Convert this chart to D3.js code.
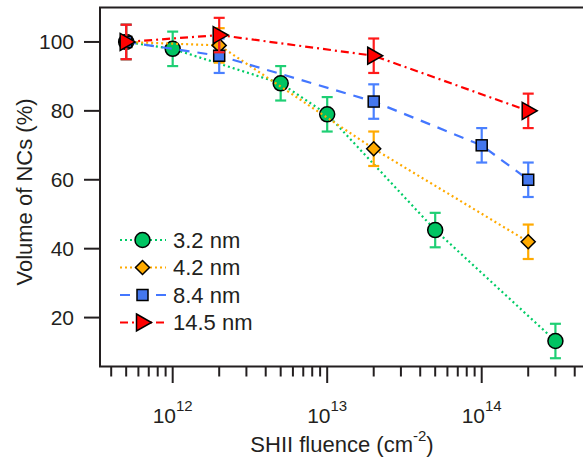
<!DOCTYPE html>
<html><head><meta charset="utf-8">
<script src="https://cdn.jsdelivr.net/npm/d3@7"></script>
<style>html,body{margin:0;padding:0;background:#fff;}svg{display:block;font-family:"Liberation Sans",Arial,Helvetica,sans-serif;}</style>
</head><body>
<svg id="chart" width="583" height="460"></svg>
<script>
// ---- data ----
const seriesNames = ["3.2 nm", "4.2 nm", "8.4 nm", "14.5 nm"];
const fluence32 = [5e11, 1e12, 5e12, 1e13, 5e13, 3e14];
const volume32  = [100, 98, 88, 79, 45.4, 13.2];
const error32   = [5, 5, 5, 5, 5, 5];
const fluence42 = [5e11, 2e12, 2e13, 2e14];
const volume42  = [100, 99, 69, 42];
const error42   = [5, 5, 5, 5];
const fluence84 = [5e11, 2e12, 2e13, 1e14, 2e14];
const volume84  = [100, 96, 82.7, 70, 60];
const error84   = [5, 5, 5, 5, 5];
const fluence145 = [5e11, 2e12, 2e13, 2e14];
const volume145  = [100, 102, 96, 80];
const error145   = [5, 5, 5, 5];
const yTicks = [20, 40, 60, 80, 100];
const xMajorTicks = [1e12, 1e13, 1e14];
const xTickExponents = ["12", "13", "14"];

const styles = [
  {line:"#00cc66", fill:"#00c462", err:"#1fcf74", dash:"2,3", shape:"circle"},
  {line:"#ffaa00", fill:"#ffaa00", err:"#ffaa00", dash:"2,3", shape:"diamond"},
  {line:"#4477ff", fill:"#4477ee", err:"#4a80ff", dash:"10,8", shape:"square"},
  {line:"#ff0000", fill:"#ff0000", err:"#ff1a1a", dash:"8,4,2,4", shape:"triangle"}
];
const series = [
  {x:fluence32, y:volume32, e:error32},
  {x:fluence42, y:volume42, e:error42},
  {x:fluence84, y:volume84, e:error84},
  {x:fluence145, y:volume145, e:error145}
].map((s,i)=>({name:seriesNames[i], pts:s.x.map((xv,j)=>({x:xv,y:s.y[j],e:s.e[j]})), st:styles[i]}));

// ---- scales ----
const L = 100, R = 589.7, T = 7.5, B = 366.5;
const x = d3.scaleLog().domain([3.385e11, 5e14]).range([L, R]);
const y = d3.scaleLinear().domain([5.8, 110]).range([B, T]);

const svg = d3.select("#chart");
const ink = "#231f20";

// frame
svg.append("path").attr("d", `M${R},${T}H${L}V${B}H${R}`)
  .attr("fill","none").attr("stroke",ink).attr("stroke-width",2);

// x ticks
const minor = [];
for (let d = 11; d <= 14; d++) for (let m = 2; m <= 9; m++) {
  const v = m * Math.pow(10, d);
  if (v > x.domain()[0] && v < x.domain()[1]) minor.push(v);
}
svg.append("g").selectAll("line").data(minor).join("line")
  .attr("x1", d=>x(d)).attr("x2", d=>x(d)).attr("y1", B).attr("y2", B+10)
  .attr("stroke", ink).attr("stroke-width", 2);
svg.append("g").selectAll("line").data(xMajorTicks).join("line")
  .attr("x1", d=>x(d)).attr("x2", d=>x(d)).attr("y1", B).attr("y2", B+16.5)
  .attr("stroke", ink).attr("stroke-width", 2);
const xl = svg.append("g").selectAll("text").data(xMajorTicks).join("text")
  .attr("x", d=>x(d)).attr("y", 423.3).attr("text-anchor","middle")
  .attr("fill", ink).attr("font-size", 21);
xl.append("tspan").text("10");
xl.append("tspan").attr("font-size", 15).attr("dy", -12.6).text((d,i)=>xTickExponents[i]);

// y ticks
svg.append("g").selectAll("line").data(yTicks).join("line")
  .attr("x1", L-16).attr("x2", L).attr("y1", d=>y(d)).attr("y2", d=>y(d))
  .attr("stroke", ink).attr("stroke-width", 2);
svg.append("g").selectAll("text").data(yTicks).join("text")
  .attr("x", 74).attr("y", d=>y(d)).attr("dy", "0.35em").attr("text-anchor","end")
  .attr("fill", ink).attr("font-size", 21).text(d=>d);

// axis titles
const xt = svg.append("text").attr("x", 342).attr("y", 452).attr("text-anchor","middle")
  .attr("fill", ink).attr("font-size", 22);
xt.append("tspan").text("SHII fluence (cm");
xt.append("tspan").attr("font-size", 15).attr("dy", -11).text("-2");
xt.append("tspan").attr("dy", 11).text(")");
svg.append("text").attr("transform", "translate(32,192) rotate(-90)")
  .attr("text-anchor","middle").attr("fill", ink).attr("font-size", 22)
  .text("Volume of NCs (%)");

// markers
function marker(g, shape, st) {
  if (shape === "circle") g.append("circle").attr("r", 7.5);
  else if (shape === "square") g.append("rect").attr("x",-5.5).attr("y",-5.5).attr("width",11).attr("height",11);
  else if (shape === "diamond") g.append("path").attr("d","M0,-7L7,0L0,7L-7,0Z");
  else g.append("path").attr("d","M-6,-8.5L9,0L-6,8.5Z");
  g.selectAll("*").attr("fill", st.fill).attr("stroke", "#000").attr("stroke-width", 1.5);
}

const line = d3.line().x(d=>x(d.x)).y(d=>y(d.y));
series.forEach(s => {
  const g = svg.append("g");
  g.append("path").datum(s.pts).attr("d", line).attr("fill","none")
    .attr("stroke", s.st.line).attr("stroke-width", 2.2).attr("stroke-dasharray", s.st.dash);
  const eb = g.append("g").selectAll("g").data(s.pts).join("g");
  eb.append("line").attr("x1", d=>x(d.x)).attr("x2", d=>x(d.x))
    .attr("y1", d=>y(d.y+d.e)).attr("y2", d=>y(d.y-d.e));
  eb.append("line").attr("x1", d=>x(d.x)-5.5).attr("x2", d=>x(d.x)+5.5)
    .attr("y1", d=>y(d.y+d.e)).attr("y2", d=>y(d.y+d.e));
  eb.append("line").attr("x1", d=>x(d.x)-5.5).attr("x2", d=>x(d.x)+5.5)
    .attr("y1", d=>y(d.y-d.e)).attr("y2", d=>y(d.y-d.e));
  eb.selectAll("line").attr("stroke", s.st.err).attr("stroke-width", 2.2);
  g.append("g").selectAll("g").data(s.pts).join("g")
    .attr("transform", d=>`translate(${x(d.x)},${y(d.y)})`)
    .each(function(){ marker(d3.select(this), s.st.shape, s.st); });
});

// legend
const lg = svg.append("g");
series.forEach((s, i) => {
  const cy = 240 + i * 27.5;
  lg.append("line").attr("x1", 120).attr("x2", 166).attr("y1", cy).attr("y2", cy)
    .attr("stroke", s.st.line).attr("stroke-width", 2.2).attr("stroke-dasharray", s.st.dash);
  const m = lg.append("g").attr("transform", `translate(142.5,${cy})`);
  marker(m, s.st.shape, s.st);
  lg.append("text").attr("x", 173).attr("y", cy).attr("dy", "0.36em")
    .attr("fill", ink).attr("font-size", 22).text(s.name);
});
</script>
</body></html>
